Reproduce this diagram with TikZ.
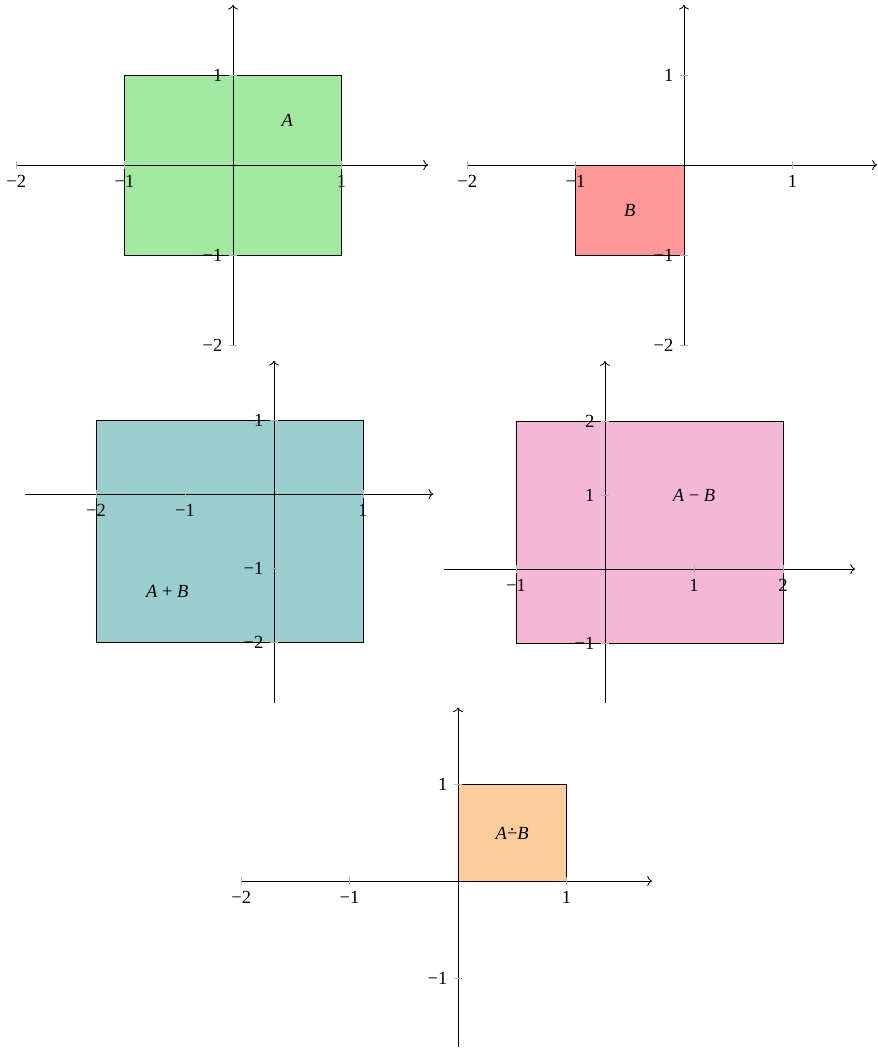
\documentclass[tikz,border=0pt]{standalone}
\usepackage{fontspec}
\setmainfont{Liberation Serif}
\usetikzlibrary{arrows.meta, positioning}

\definecolor{setA}{RGB}{162,232,160}
\definecolor{setB}{RGB}{255,153,153}
\definecolor{setSum}{RGB}{154,205,206}
\definecolor{setDiff}{RGB}{245,183,215}
\definecolor{setMonus}{RGB}{252,205,155}

\newcommand{\dotminus}{\ooalign{−\cr\hfil\raisebox{0.5em}{.}\hfil\cr}}

\begin{document}
\begin{tikzpicture}[x=0.54pt, y=-0.54pt,
    axisline/.style={->, black, line width=0.45pt},
    tickmark/.style={gray!60, line width=0.5pt},
    xlab/.style={below=5.5pt, text=black, inner sep=0pt, font=\normalsize},
    ylab/.style={left=5.5pt, text=black, inner sep=0pt, font=\normalsize},
    region/.style={draw=black, line width=0.45pt},
    setname/.style={inner sep=1pt}]
            \useasboundingbox (0,0) rectangle (878,1049);

            % Set A
            \begin{scope}[shift={(233,165)}, x=58.54pt, y=48.6pt]
            \draw[region, fill=setA] (-1,-1) rectangle (1,1);
            \node[setname] (nameA) at (0.5,0.5) {\textit{A}};
            \draw[axisline] (-2,0) -- (1.8,0);
            \draw[axisline] (0,-2) -- (0,1.78);
            \draw[tickmark] (-2,0) +(0,-2pt) -- +(0,2pt) (-1,0) +(0,-2pt) -- +(0,2pt) (1,0) +(0,-2pt) -- +(0,2pt);
            \draw[tickmark] (0,1) +(-2pt,0) -- +(2pt,0) (0,-1) +(-2pt,0) -- +(2pt,0) (0,-2) +(-2pt,0) -- +(2pt,0);
            \node[xlab] (a-xm2) at (-2,0) {−2};
            \node[xlab] (a-xm1) at (-1,0) {−1};
            \node[xlab] (a-x1) at (1,0) {1};
            \node[ylab] (a-y1) at (0,1) {1};
            \node[ylab] (a-ym1) at (0,-1) {−1};
            \node[ylab] (a-ym2) at (0,-2) {−2};
            \end{scope}

            % Set B
            \begin{scope}[shift={(684,165)}, x=58.54pt, y=48.6pt]
            \draw[region, fill=setB] (-1,-1) rectangle (0,0);
            \node[setname] (nameB) at (-0.5,-0.5) {\textit{B}};
            \draw[axisline] (-2,0) -- (1.78,0);
            \draw[axisline] (0,-2) -- (0,1.78);
            \draw[tickmark] (-2,0) +(0,-2pt) -- +(0,2pt) (-1,0) +(0,-2pt) -- +(0,2pt) (1,0) +(0,-2pt) -- +(0,2pt);
            \draw[tickmark] (0,1) +(-2pt,0) -- +(2pt,0) (0,-1) +(-2pt,0) -- +(2pt,0) (0,-2) +(-2pt,0) -- +(2pt,0);
            \node[xlab] (b-xm2) at (-2,0) {−2};
            \node[xlab] (b-xm1) at (-1,0) {−1};
            \node[xlab] (b-x1) at (1,0) {1};
            \node[ylab] (b-y1) at (0,1) {1};
            \node[ylab] (b-ym1) at (0,-1) {−1};
            \node[ylab] (b-ym2) at (0,-2) {−2};
            \end{scope}

            % Sum A + B
            \begin{scope}[shift={(274,494)}, x=48.06pt, y=39.96pt]
            \draw[region, fill=setSum] (-2,-2) rectangle (1,1);
            \node[setname] (nameSum) at (-1.2,-1.32) {\textit{A} + \textit{B}};
            \draw[axisline] (-2.8,0) -- (1.79,0);
            \draw[axisline] (0,-2.82) -- (0,1.8);
            \draw[tickmark] (-2,0) +(0,-2pt) -- +(0,2pt) (-1,0) +(0,-2pt) -- +(0,2pt) (1,0) +(0,-2pt) -- +(0,2pt);
            \draw[tickmark] (0,1) +(-2pt,0) -- +(2pt,0) (0,-1) +(-2pt,0) -- +(2pt,0) (0,-2) +(-2pt,0) -- +(2pt,0);
            \node[xlab] (s-xm2) at (-2,0) {−2};
            \node[xlab] (s-xm1) at (-1,0) {−1};
            \node[xlab] (s-x1) at (1,0) {1};
            \node[ylab] (s-y1) at (0,1) {1};
            \node[ylab] (s-ym1) at (0,-1) {−1};
            \node[ylab] (s-ym2) at (0,-2) {−2};
            \end{scope}

            % Difference A - B
            \begin{scope}[shift={(605,569)}, x=48.06pt, y=39.96pt]
            \draw[region, fill=setDiff] (-1,-1) rectangle (2,2);
            \node[setname] (nameDiff) at (1,1) {\textit{A} − \textit{B}};
            \draw[axisline] (-1.81,0) -- (2.81,0);
            \draw[axisline] (0,-1.81) -- (0,2.81);
            \draw[tickmark] (-1,0) +(0,-2pt) -- +(0,2pt) (1,0) +(0,-2pt) -- +(0,2pt) (2,0) +(0,-2pt) -- +(0,2pt);
            \draw[tickmark] (0,2) +(-2pt,0) -- +(2pt,0) (0,1) +(-2pt,0) -- +(2pt,0) (0,-1) +(-2pt,0) -- +(2pt,0);
            \node[xlab] (d-xm1) at (-1,0) {−1};
            \node[xlab] (d-x1) at (1,0) {1};
            \node[xlab] (d-x2) at (2,0) {2};
            \node[ylab] (d-y2) at (0,2) {2};
            \node[ylab] (d-y1) at (0,1) {1};
            \node[ylab] (d-ym1) at (0,-1) {−1};
            \end{scope}

            % Monus A dot-minus B
            \begin{scope}[shift={(458,881)}, x=58.54pt, y=52.38pt]
            \draw[region, fill=setMonus] (0,0) rectangle (1,1);
            \node[setname] (nameMonus) at (0.5,0.49) {\textit{A}\dotminus\textit{B}};
            \draw[axisline] (-2,0) -- (1.79,0);
            \draw[axisline] (0,-1.71) -- (0,1.79);
            \draw[tickmark] (-2,0) +(0,-2pt) -- +(0,2pt) (-1,0) +(0,-2pt) -- +(0,2pt) (1,0) +(0,-2pt) -- +(0,2pt);
            \draw[tickmark] (0,1) +(-2pt,0) -- +(2pt,0) (0,-1) +(-2pt,0) -- +(2pt,0);
            \node[xlab] (m-xm2) at (-2,0) {−2};
            \node[xlab] (m-xm1) at (-1,0) {−1};
            \node[xlab] (m-x1) at (1,0) {1};
            \node[ylab] (m-y1) at (0,1) {1};
            \node[ylab] (m-ym1) at (0,-1) {−1};
            \end{scope}
        \end{tikzpicture}
\end{document}
